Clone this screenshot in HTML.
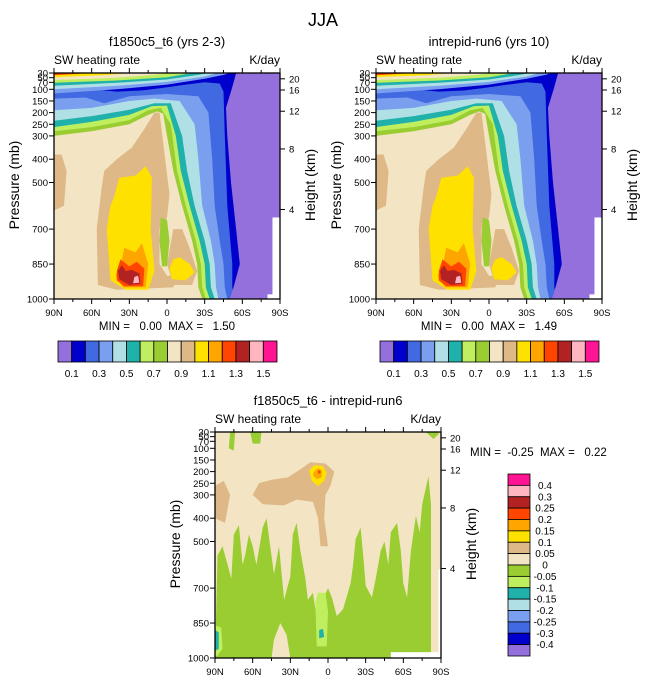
<!DOCTYPE html>
<html><head><meta charset="utf-8">
<style>
html,body{margin:0;padding:0;background:#fff;overflow:hidden;width:647px;height:683px;}
svg{display:block;font-family:"Liberation Sans",sans-serif;}
.pre{white-space:pre;}
</style></head>
<body>
<svg id="fig" width="647" height="683" viewBox="0 0 647 683" xmlns="http://www.w3.org/2000/svg">
<text x="323" y="26" font-size="18" text-anchor="middle">JJA</text>
</svg>
<script>
// ---- axis data ----
const latTicks = [90, 60, 30, 0, -30, -60, -90];
const latTickLabels = ["90N", "60N", "30N", "0", "30S", "60S", "90S"];
const presTicks = [30, 50, 70, 100, 150, 200, 250, 300, 400, 500, 700, 850, 1000];
const heightTickPres = [55, 103, 194, 356, 616];
const heightTickLabels = ["20", "16", "12", "8", "4"];
// ---- colour scales ----
const absColors = ["#9370DB","#0000CD","#4169E1","#7B9FEF","#B0E0E6","#20B2AA","#BFEF5F","#9ACD32","#F3E5C3","#DEB887","#FFE100","#FFA500","#FF4500","#B22222","#FFB6C1","#FF1493"];
const absLabels = ["0.1","","0.3","","0.5","","0.7","","0.9","","1.1","","1.3","","1.5"];
const diffColors = ["#FF1493","#FFB6C1","#B22222","#FF4500","#FFA500","#FFE100","#DEB887","#F3E5C3","#9ACD32","#BFEF5F","#20B2AA","#B0E0E6","#7B9FEF","#4169E1","#0000CD","#9370DB"];
const diffLabels = ["0.4","0.3","0.25","0.2","0.15","0.1","0.05","0","-0.05","-0.1","-0.15","-0.2","-0.25","-0.3","-0.4"];
// ---- contour lines (lat, pressure) ----
const lev08 = [[90,300],[60,280],[30,250],[15,210],[8,195],[3,205],[0,300],[-5,450],[-12,600],[-20,750],[-24,850],[-25,950],[-28,1000]];
const lev07 = [[90,280],[60,262],[30,232],[15,190],[5,180],[-3,250],[-8,450],[-15,600],[-23,750],[-27,850],[-28,950],[-31,1000]];
const lev06 = [[90,262],[60,240],[30,210],[12,172],[0,170],[-7,300],[-11,450],[-18,600],[-26,750],[-30,850],[-31,950],[-34,1000]];
const lev05 = [[90,235],[60,215],[30,188],[10,160],[-3,160],[-12,300],[-16,450],[-22,600],[-30,750],[-34,850],[-35,950],[-38,1000]];
const lev04 = [[90,190],[60,180],[30,150],[10,140],[-10,150],[-22,250],[-25,400],[-28,600],[-35,750],[-38,850],[-39,950],[-41,1000]];
const lev03 = [[90,140],[65,135],[50,160],[30,130],[0,120],[-25,130],[-33,200],[-36,400],[-38,600],[-42,750],[-45,850],[-46,950],[-48,1000]];
const lev02 = [[90,105],[60,100],[40,110],[20,105],[5,95],[-15,80],[-30,70],[-42,75],[-45,110],[-46,300],[-48,600],[-52,850],[-52,950],[-54,1000]];
const lev01 = [[-55,30],[-52,90],[-47,180],[-48,300],[-51,500],[-55,700],[-58,850],[-53,950],[-50,1000]];
const up03 = [[90,118],[40,100],[0,80],[-30,55],[-45,38],[-50,30]];
const up04 = [[90,100],[40,85],[0,68],[-30,45],[-40,30]];
const up05 = [[90,85],[40,72],[0,58],[-25,38],[-32,30]];
const up06 = [[90,72],[40,62],[0,48],[-20,30]];
const up08 = [[90,60],[40,50],[10,38],[0,30]];
const up10 = [[90,48],[50,40],[30,30]];
const up12 = [[90,40],[70,33],[60,30]];
const tanRegion = [[50,450],[40,400],[28,350],[18,270],[10,200],[6,200],[3,330],[-2,550],[0,650],[6,700],[6,850],[0,900],[-8,900],[-5,950],[40,960],[55,940],[56,700],[52,520]];
const tanRight = [[-5,700],[-12,700],[-18,780],[-24,880],[-20,940],[-5,940],[0,850]];
const tanLeft = [[90,380],[84,380],[80,450],[82,600],[90,620]];
const greenCol = [[5,650],[0,660],[-2,750],[0,860],[4,860],[6,750]];
const yellowRegion = [[42,560],[38,480],[25,470],[17,430],[12,480],[13,700],[10,880],[15,960],[33,960],[45,920],[48,700],[45,600]];
const yellowRight = [[-5,830],[-10,820],[-18,850],[-22,885],[-15,920],[-4,915],[-2,870]];
const orangeRegion = [[37,860],[34,780],[25,800],[20,760],[15,850],[17,950],[35,950],[41,900]];
const redRegion = [[40,880],[37,830],[30,860],[24,840],[18,870],[19,945],[34,945],[40,920]];
const brickRegion = [[39,880],[36,855],[33,880],[28,875],[22,890],[21,935],[30,940],[38,915]];
const pinkRegion = [[26,905],[23,900],[22,930],[27,932]];
// ---- difference panel regions ----
const dGreen = [[90,1000],[88,560],[84,520],[80,600],[77,660],[75,470],[71,430],[68,600],[66,560],[63,470],[60,520],[57,600],[52,440],[49,400],[46,520],[43,640],[39,520],[35,750],[30,650],[28,470],[25,420],[22,540],[18,660],[16,750],[12,720],[10,790],[5,760],[0,700],[-3,740],[-7,820],[-12,790],[-18,680],[-20,600],[-22,490],[-26,440],[-28,560],[-30,690],[-35,740],[-38,660],[-42,540],[-45,500],[-48,600],[-50,460],[-55,420],[-58,540],[-60,680],[-63,740],[-66,540],[-70,390],[-73,460],[-75,340],[-78,270],[-80,220],[-82,340],[-82,1000]];
const dGreenTop = [[78,30],[79,100],[75,110],[74,30]];
const dGreenTop2 = [[62,30],[60,80],[54,80],[53,30]];
const dGreenTop3 = [[-78,30],[-84,60],[-88,40],[-88,30]];
const dBeigeLow = [[45,1000],[43,920],[38,850],[33,900],[30,1000]];
const dTanLeft = [[90,260],[83,240],[78,300],[82,420],[90,400]];
const dTanBig = [[60,300],[55,250],[45,235],[32,225],[22,190],[14,160],[2,165],[-5,200],[-2,260],[2,300],[3,400],[0,520],[6,520],[8,400],[12,330],[25,320],[35,345],[52,340]];
const dYellow = [[15,195],[11,172],[4,176],[1,205],[3,240],[8,262],[13,240]];
const dOrange = [[11,200],[8,185],[5,195],[5,225],[9,232],[12,215]];
const dRed = [[8,195],[6,195],[6,208],[8,208]];
const dLightGreen = [[10,760],[8,720],[2,720],[0,800],[1,950],[9,950]];
const dTeal = [[7,880],[4,875],[3,910],[7,915]];
const dCornerLG = [[90,860],[85,870],[84,960],[88,990],[90,990]];
const dCornerTeal = [[90,880],[87,890],[87,960],[90,970]];

const NS = "http://www.w3.org/2000/svg";
const svg = document.getElementById("fig");
function mk(tag, attrs, parent){ const e=document.createElementNS(NS,tag); for(const k in attrs) e.setAttribute(k,attrs[k]); (parent||svg).appendChild(e); return e; }

function makePanel(x0, y0, w, h){
  const xs = lat => x0 + (90 - lat) / 180 * w;
  const ys = p => y0 + (p - 30) / 970 * h;
  return {x0, y0, w, h, xs, ys};
}
function poly(g, P, pts, fill, name){
  const d = pts.map(q => P.xs(q[0]).toFixed(1)+","+P.ys(q[1]).toFixed(1)).join(" ");
  const e = mk("polygon",{points:d, fill:fill}, g);
  
  
  return e;
}
function lowerRegion(g, P, curve, fill, name){
  return poly(g, P, curve.concat([[-90,1000],[-90,30],[90,30]]), fill, name);
}
function upperRegion(g, P, curve, fill, name){
  return poly(g, P, curve.concat([[90,30]]), fill, name);
}
function whiteBox(g, P, latL, pTop){
  const x = P.xs(latL), y = P.ys(pTop);
  mk("rect",{x:x,y:y,width:P.x0+P.w-x,height:P.y0+P.h-y,fill:"#fff"}, g);
}
let clipId = 0;
function frameAxes(P, panelName, titleText){
  const g = mk("g",{});
  
  
  const t = mk("text",{x:P.x0+P.w/2, y:P.y0-27, "font-size":13, "text-anchor":"middle"}, g); t.textContent = titleText;
  
  
  const l = mk("text",{x:P.x0, y:P.y0-9, "font-size":12}, g); l.textContent = "SW heating rate";
  
  
  const r = mk("text",{x:P.x0+P.w, y:P.y0-9, "font-size":12, "text-anchor":"end"}, g); r.textContent = "K/day";
  
  
  clipId++;
  const cp = mk("clipPath",{id:"c"+clipId}, g);
  mk("rect",{x:P.x0,y:P.y0,width:P.w,height:P.h}, cp);
  const plot = mk("g",{"clip-path":"url(#c"+clipId+")"}, g);
  
  
  return {g, plot};
}
function drawAxes(P, g){
  mk("rect",{x:P.x0,y:P.y0,width:P.w,height:P.h,fill:"none",stroke:"#000","stroke-width":1.3}, g);
  latTicks.forEach((lt,i)=>{
    const x = P.xs(lt);
    mk("line",{x1:x,y1:P.y0+P.h,x2:x,y2:P.y0+P.h+5,stroke:"#000"}, g);
    mk("line",{x1:x,y1:P.y0,x2:x,y2:P.y0-5,stroke:"#000"}, g);
    const tl = mk("text",{x:x,y:P.y0+P.h+17,"font-size":9.5,"text-anchor":"middle"}, g); tl.textContent = latTickLabels[i];
    
    
  });
  for(let lt=75; lt>-90; lt-=15){ if(lt%30===0) continue; const x=P.xs(lt);
    mk("line",{x1:x,y1:P.y0+P.h,x2:x,y2:P.y0+P.h+3,stroke:"#000"}, g);
    mk("line",{x1:x,y1:P.y0,x2:x,y2:P.y0-3,stroke:"#000"}, g); }
  presTicks.forEach(p=>{
    const y = P.ys(p);
    mk("line",{x1:P.x0-5,y1:y,x2:P.x0,y2:y,stroke:"#000"}, g);
    const tl = mk("text",{x:P.x0-6,y:y+3.5,"font-size":9.5,"text-anchor":"end"}, g); tl.textContent = p;
    
    
  });
  heightTickPres.forEach((p,i)=>{
    const y = P.ys(p);
    mk("line",{x1:P.x0+P.w,y1:y,x2:P.x0+P.w+5,y2:y,stroke:"#000"}, g);
    const tl = mk("text",{x:P.x0+P.w+9,y:y+3.5,"font-size":9.5}, g); tl.textContent = heightTickLabels[i];
    
    
  });
  const yl = mk("text",{x:0,y:0,"font-size":14,"text-anchor":"middle",transform:"translate("+(P.x0-35)+","+(P.y0+P.h/2-1)+") rotate(-90)"}, g);
  yl.textContent = "Pressure (mb)";
  
  
  const hl = mk("text",{x:0,y:0,"font-size":14,"text-anchor":"middle",transform:"translate("+(P.x0+P.w+35)+","+(P.y0+P.h/2-1)+") rotate(-90)"}, g);
  hl.textContent = "Height (km)";
  
  
}
function absPanel(x0, name, title, maxText, cbx){
  const P = makePanel(x0, 73, 226, 226);
  const {g, plot} = frameAxes(P, name, title);
  mk("rect",{x:P.x0,y:P.y0,width:P.w,height:P.h,fill:absColors[8]}, plot);
  poly(plot,P,tanRegion,absColors[9],"tan-region");
  poly(plot,P,tanRight,absColors[9],"tan-region-south");
  poly(plot,P,tanLeft,absColors[9],"tan-region-pole");
  poly(plot,P,greenCol,absColors[7],"green-column");
  poly(plot,P,yellowRegion,absColors[10],"yellow-region");
  poly(plot,P,yellowRight,absColors[10],"yellow-region-south");
  poly(plot,P,orangeRegion,absColors[11],"orange-region");
  poly(plot,P,redRegion,absColors[12],"red-region");
  poly(plot,P,brickRegion,absColors[13],"firebrick-region");
  poly(plot,P,pinkRegion,absColors[14],"pink-region");
  lowerRegion(plot,P,lev08,absColors[7],"band-0.7");
  lowerRegion(plot,P,lev07,absColors[6],"band-0.6");
  lowerRegion(plot,P,lev06,absColors[5],"band-0.5");
  lowerRegion(plot,P,lev05,absColors[4],"band-0.4");
  lowerRegion(plot,P,lev04,absColors[3],"band-0.3");
  lowerRegion(plot,P,lev03,absColors[2],"band-0.2");
  lowerRegion(plot,P,lev02,absColors[1],"band-0.1");
  poly(plot,P,lev01.concat([[-90,1000],[-90,30]]),absColors[0],"band-0.0");
  whiteBox(plot,P,-80,980);
  whiteBox(plot,P,-84,650);
  upperRegion(plot,P,up03,absColors[3],"upper-band-0.3");
  upperRegion(plot,P,up04,absColors[4],"upper-band-0.4");
  upperRegion(plot,P,up05,absColors[5],"upper-band-0.5");
  upperRegion(plot,P,up06,absColors[6],"upper-band-0.6");
  upperRegion(plot,P,up08,absColors[8],"upper-band-0.8");
  upperRegion(plot,P,up10,absColors[10],"upper-band-1.0");
  upperRegion(plot,P,up12,absColors[12],"upper-band-1.2");
  drawAxes(P, g);
  const mm = mk("text",{x:P.x0+P.w/2,y:P.y0+P.h+31,"font-size":11.5,"text-anchor":"middle","class":"pre"}, g);
  mm.textContent = maxText;
  
  
  const cb = mk("g",{}, g);
  
  
  const bw = 219/absColors.length;
  absColors.forEach((c,i)=>{
    const r = mk("rect",{x:cbx+i*bw,y:341,width:bw,height:21,fill:c,stroke:"#000","stroke-width":0.8}, cb);
    
    
  });
  absLabels.forEach((s,i)=>{ if(!s) return;
    const t = mk("text",{x:cbx+(i+1)*bw,y:377,"font-size":10,"text-anchor":"middle"}, cb); t.textContent = s;
    
    
  });
}
absPanel(54, "panel-f1850c5", "f1850c5_t6 (yrs 2-3)", "MIN =   0.00  MAX =   1.50", 58);
absPanel(376, "panel-intrepid", "intrepid-run6 (yrs 10)", "MIN =   0.00  MAX =   1.49", 380);

(function(){
  const P = makePanel(215, 432, 226, 226);
  const {g, plot} = frameAxes(P, "panel-difference", "f1850c5_t6 - intrepid-run6");
  mk("rect",{x:P.x0,y:P.y0,width:P.w,height:P.h,fill:diffColors[7]}, plot);
  poly(plot,P,dGreen,diffColors[8],"negative-region");
  poly(plot,P,dGreenTop,diffColors[8],"negative-blob");
  poly(plot,P,dGreenTop2,diffColors[8],"negative-blob");
  poly(plot,P,dGreenTop3,diffColors[8],"negative-blob");
  poly(plot,P,dBeigeLow,diffColors[7],"near-zero-blob");
  poly(plot,P,dTanLeft,diffColors[6],"positive-blob-pole");
  poly(plot,P,dTanBig,diffColors[6],"positive-region");
  poly(plot,P,dYellow,diffColors[5],"yellow-blob");
  poly(plot,P,dOrange,diffColors[4],"orange-blob");
  poly(plot,P,dRed,diffColors[3],"red-dot");
  poly(plot,P,dLightGreen,diffColors[9],"lightgreen-blob");
  poly(plot,P,dTeal,diffColors[10],"teal-blob");
  poly(plot,P,dCornerLG,diffColors[9],"corner-lightgreen");
  poly(plot,P,dCornerTeal,diffColors[10],"corner-teal");
  whiteBox(plot,P,-50,975);
  whiteBox(plot,P,-88,620);
  drawAxes(P, g);
  const mm = mk("text",{x:470,y:456,"font-size":11.5,"class":"pre"}, g);
  mm.textContent = "MIN =  -0.25  MAX =   0.22";
  
  
  const cb = mk("g",{}, g);
  
  
  const bh = 182/diffColors.length;
  diffColors.forEach((c,i)=>{
    const r = mk("rect",{x:508,y:474+i*bh,width:22,height:bh,fill:c,stroke:"#000","stroke-width":0.8}, cb);
    
    
  });
  diffLabels.forEach((s,i)=>{
    const t = mk("text",{x:545,y:474+(i+1)*bh+3.5,"font-size":10,"text-anchor":"middle"}, cb); t.textContent = s;
    
    
  });
})();
</script>
</body></html>
